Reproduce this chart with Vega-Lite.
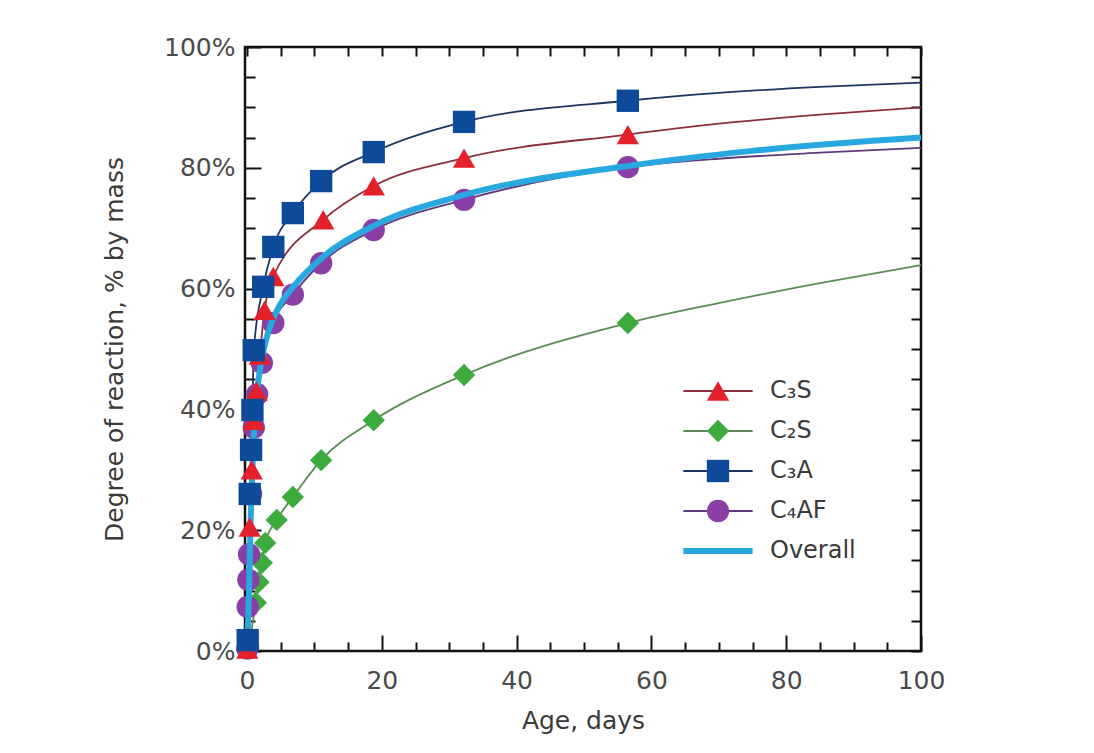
{
  "$schema": "https://vega.github.io/schema/vega-lite/v6.json",
  "width": 676,
  "height": 604,
  "autosize": {"type": "none"},
  "padding": {"left": 245, "top": 47, "right": 173, "bottom": 102},
  "background": "white",
  "config": {
    "view": {"stroke": "#111111", "strokeWidth": 2.5},
    "font": "DejaVu Sans",
    "axis": {
      "domain": false, "grid": false,
      "labelFont": "DejaVu Sans", "labelFontSize": 25, "labelColor": "#4a4a4a",
      "titleFont": "DejaVu Sans", "titleFontSize": 25, "titleFontWeight": "normal", "titleColor": "#3a3a3a",
      "tickColor": "#111111", "tickWidth": 2
    }
  },
  "data": {"values": [
    {"s": "C₃S", "d": 0.05, "p": 0.3, "m": 1},
    {"s": "C₃S", "d": 0.15, "p": 2.3, "m": 1},
    {"s": "C₃S", "d": 0.4, "p": 20.5, "m": 1},
    {"s": "C₃S", "d": 0.7, "p": 30, "m": 1},
    {"s": "C₃S", "d": 1.0, "p": 38.2, "m": 1},
    {"s": "C₃S", "d": 1.4, "p": 43, "m": 1},
    {"s": "C₃S", "d": 1.9, "p": 49, "m": 1},
    {"s": "C₃S", "d": 2.6, "p": 56.4, "m": 1},
    {"s": "C₃S", "d": 3.9, "p": 62, "m": 1},
    {"s": "C₃S", "d": 11.3, "p": 71.4, "m": 1},
    {"s": "C₃S", "d": 18.8, "p": 77, "m": 1},
    {"s": "C₃S", "d": 32.2, "p": 81.6, "m": 1},
    {"s": "C₃S", "d": 56.5, "p": 85.5, "m": 1},
    {"s": "C₃S", "d": 70, "p": 87.3, "m": 0},
    {"s": "C₃S", "d": 85, "p": 88.8, "m": 0},
    {"s": "C₃S", "d": 100, "p": 90, "m": 0},
    {"s": "C₂S", "d": 0.2, "p": 0.5, "m": 1},
    {"s": "C₂S", "d": 1.3, "p": 8, "m": 1},
    {"s": "C₂S", "d": 1.7, "p": 11.4, "m": 1},
    {"s": "C₂S", "d": 2.2, "p": 14.6, "m": 1},
    {"s": "C₂S", "d": 2.7, "p": 17.9, "m": 1},
    {"s": "C₂S", "d": 4.4, "p": 21.7, "m": 1},
    {"s": "C₂S", "d": 6.8, "p": 25.5, "m": 1},
    {"s": "C₂S", "d": 11, "p": 31.6, "m": 1},
    {"s": "C₂S", "d": 18.8, "p": 38.2, "m": 1},
    {"s": "C₂S", "d": 32.2, "p": 45.7, "m": 1},
    {"s": "C₂S", "d": 56.5, "p": 54.3, "m": 1},
    {"s": "C₂S", "d": 70, "p": 57.6, "m": 0},
    {"s": "C₂S", "d": 85, "p": 60.9, "m": 0},
    {"s": "C₂S", "d": 100, "p": 63.9, "m": 0},
    {"s": "C₃A", "d": 0.1, "p": 1.8, "m": 1},
    {"s": "C₃A", "d": 0.4, "p": 26, "m": 1},
    {"s": "C₃A", "d": 0.6, "p": 33.3, "m": 1},
    {"s": "C₃A", "d": 0.8, "p": 39.9, "m": 1},
    {"s": "C₃A", "d": 1.0, "p": 49.8, "m": 1},
    {"s": "C₃A", "d": 2.4, "p": 60.3, "m": 1},
    {"s": "C₃A", "d": 3.9, "p": 66.9, "m": 1},
    {"s": "C₃A", "d": 6.8, "p": 72.5, "m": 1},
    {"s": "C₃A", "d": 11, "p": 77.8, "m": 1},
    {"s": "C₃A", "d": 18.8, "p": 82.6, "m": 1},
    {"s": "C₃A", "d": 32.2, "p": 87.6, "m": 1},
    {"s": "C₃A", "d": 56.5, "p": 91.1, "m": 1},
    {"s": "C₃A", "d": 70, "p": 92.4, "m": 0},
    {"s": "C₃A", "d": 85, "p": 93.4, "m": 0},
    {"s": "C₃A", "d": 100, "p": 94.1, "m": 0},
    {"s": "C₄AF", "d": 0.05, "p": 0.4, "m": 1},
    {"s": "C₄AF", "d": 0.1, "p": 7.3, "m": 1},
    {"s": "C₄AF", "d": 0.2, "p": 11.8, "m": 1},
    {"s": "C₄AF", "d": 0.3, "p": 16, "m": 1},
    {"s": "C₄AF", "d": 0.6, "p": 26, "m": 1},
    {"s": "C₄AF", "d": 1.0, "p": 37, "m": 1},
    {"s": "C₄AF", "d": 1.5, "p": 42.5, "m": 1},
    {"s": "C₄AF", "d": 2.2, "p": 47.7, "m": 1},
    {"s": "C₄AF", "d": 3.9, "p": 54.3, "m": 1},
    {"s": "C₄AF", "d": 6.8, "p": 59, "m": 1},
    {"s": "C₄AF", "d": 11, "p": 64.2, "m": 1},
    {"s": "C₄AF", "d": 18.8, "p": 69.7, "m": 1},
    {"s": "C₄AF", "d": 32.2, "p": 74.7, "m": 1},
    {"s": "C₄AF", "d": 56.5, "p": 80.1, "m": 1},
    {"s": "C₄AF", "d": 70, "p": 81.5, "m": 0},
    {"s": "C₄AF", "d": 85, "p": 82.5, "m": 0},
    {"s": "C₄AF", "d": 100, "p": 83.3, "m": 0},
    {"s": "Overall", "d": 0, "p": 0, "m": 0},
    {"s": "Overall", "d": 0.1, "p": 3, "m": 0},
    {"s": "Overall", "d": 0.3, "p": 10, "m": 0},
    {"s": "Overall", "d": 0.5, "p": 20, "m": 0},
    {"s": "Overall", "d": 0.8, "p": 30, "m": 0},
    {"s": "Overall", "d": 1.1, "p": 38, "m": 0},
    {"s": "Overall", "d": 1.6, "p": 44, "m": 0},
    {"s": "Overall", "d": 2.3, "p": 49, "m": 0},
    {"s": "Overall", "d": 3.2, "p": 53, "m": 0},
    {"s": "Overall", "d": 4.5, "p": 56.5, "m": 0},
    {"s": "Overall", "d": 7, "p": 60.5, "m": 0},
    {"s": "Overall", "d": 11, "p": 65, "m": 0},
    {"s": "Overall", "d": 19, "p": 70.5, "m": 0},
    {"s": "Overall", "d": 32.2, "p": 75.5, "m": 0},
    {"s": "Overall", "d": 56.5, "p": 80.3, "m": 0},
    {"s": "Overall", "d": 75, "p": 82.8, "m": 0},
    {"s": "Overall", "d": 100, "p": 85, "m": 0}
  ]},
  "layer": [
    {
      "transform": [{"filter": "datum.s !== 'Overall'"}],
      "mark": {"type": "line", "interpolate": "monotone", "strokeWidth": 1.8},
      "encoding": {
        "x": {"field": "d", "type": "quantitative",
          "scale": {"domain": [-0.3, 100], "nice": false, "zero": false},
          "axis": {"orient": "bottom", "values": [0,5,10,15,20,25,30,35,40,45,50,55,60,65,70,75,80,85,90,95,100],
            "labelExpr": "datum.value % 20 === 0 ? datum.label : ''",
            "tickSize": {"condition": {"test": "datum.value % 20 === 0", "value": -16}, "value": -9},
            "labelPadding": 33, "labelFlush": false, "labelOverlap": false,
            "title": "Age, days", "titlePadding": 8}},
        "y": {"field": "p", "type": "quantitative",
          "scale": {"domain": [0, 100], "nice": false},
          "axis": {"orient": "left", "values": [0,5,10,15,20,25,30,35,40,45,50,55,60,65,70,75,80,85,90,95,100],
            "labelExpr": "datum.value % 20 === 0 ? datum.value + '%' : ''",
            "tickSize": {"condition": {"test": "datum.value % 20 === 0", "value": -16}, "value": -10},
            "labelPadding": 26, "labelOverlap": false,
            "title": "Degree of reaction, % by mass", "titlePadding": 36}},
        "stroke": {"field": "s", "type": "nominal",
          "scale": {"domain": ["C₃S", "C₂S", "C₃A", "C₄AF", "Overall"], "range": ["#8c2f3c", "#5b8c55", "#1c3563", "#5f3a7a", "#29a8df"]},
          "legend": {"orient": "none", "legendX": 461, "legendY": 332, "title": null,
            "symbolType": "M-3.1,0H3.1", "symbolSize": 500, "labelOffset": 40,
            "symbolStrokeWidth": {"expr": "datum.value === 'Overall' ? 6 : 2"},
            "labelFont": "DejaVu Sans", "labelFontSize": 24, "labelColor": "#3a3a3a",
            "rowPadding": 16, "padding": 0}}
      }
    },
    {
      "transform": [{"filter": "datum.m === 1 && (datum.s === 'C₂S' || datum.s === 'C₄AF')"}],
      "mark": {"type": "point", "filled": true, "size": 500, "opacity": 1, "strokeWidth": 0},
      "encoding": {
        "x": {"field": "d", "type": "quantitative", "axis": null},
        "y": {"field": "p", "type": "quantitative", "axis": null},
        "shape": {"field": "s", "type": "nominal",
          "scale": {"domain": ["C₃S", "C₂S", "C₃A", "C₄AF"], "range": ["triangle-up", "diamond", "square", "circle"]},
          "legend": {"orient": "none", "legendX": 461, "legendY": 332, "title": null,
            "symbolSize": 500, "labelOffset": 40, "labelOpacity": 0, "labelFontSize": 24,
            "rowPadding": 16, "padding": 0, "symbolStrokeWidth": 0}},
        "fill": {"field": "s", "type": "nominal",
          "scale": {"domain": ["C₃S", "C₂S", "C₃A", "C₄AF"], "range": ["#e3212b", "#3daa3d", "#0d4a9a", "#8a3fa6"]}}
      }
    },
    {
      "transform": [{"filter": "datum.s === 'Overall'"}],
      "mark": {"type": "line", "interpolate": "monotone", "strokeWidth": 6},
      "encoding": {
        "x": {"field": "d", "type": "quantitative",
          "axis": {"orient": "top", "values": [0,5,10,15,20,25,30,35,40,45,50,55,60,65,70,75,80,85,90,95,100],
            "labels": false, "title": null, "tickSize": -9}},
        "y": {"field": "p", "type": "quantitative",
          "axis": {"orient": "right", "values": [0,5,10,15,20,25,30,35,40,45,50,55,60,65,70,75,80,85,90,95,100],
            "labels": false, "title": null, "tickSize": -10}},
        "stroke": {"field": "s", "type": "nominal"}
      }
    },
    {
      "transform": [{"filter": "datum.m === 1 && (datum.s === 'C₃S' || datum.s === 'C₃A')"}],
      "mark": {"type": "point", "filled": true, "size": 500, "opacity": 1, "strokeWidth": 0},
      "encoding": {
        "x": {"field": "d", "type": "quantitative", "axis": null},
        "y": {"field": "p", "type": "quantitative", "axis": null},
        "shape": {"field": "s", "type": "nominal"},
        "fill": {"field": "s", "type": "nominal"}
      }
    }
  ],
  "resolve": {"axis": {"x": "independent", "y": "independent"}}
}
